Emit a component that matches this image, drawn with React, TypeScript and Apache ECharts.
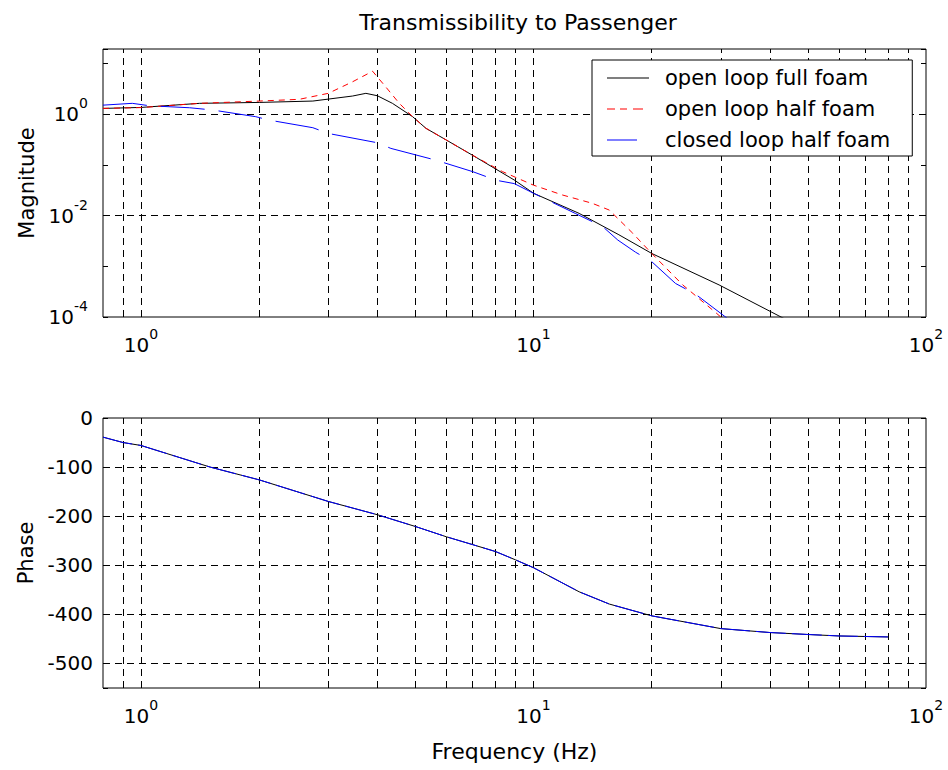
import React, { useEffect, useRef } from "react";
import * as echarts from "echarts";

// ---- data ----
const freqOpenFull = [0.8, 1.0, 1.41, 2, 2.74, 3, 3.46, 3.74, 4.0, 4.37, 4.92, 5.32, 6, 7, 8.93, 10, 13.07, 16.5, 20, 29.7, 42.2, 45];
const magOpenFull = [1.31, 1.37, 1.65, 1.72, 1.83, 2.0, 2.3, 2.6, 2.33, 1.65, 0.9, 0.53, 0.31, 0.155, 0.0506, 0.0277, 0.0111, 0.0042, 0.0018, 4.3e-4, 1.05e-4, 8.1e-5];

const freqOpenHalf = [0.8, 1.0, 1.41, 2, 2.53, 3, 3.46, 3.89, 4.2, 4.55, 4.92, 5.32, 6, 7, 8.34, 10, 11.85, 14.1, 15.6, 17.9, 20, 24.0, 29.2, 31];
const magOpenHalf = [1.31, 1.36, 1.65, 1.83, 1.98, 2.6, 4.4, 7.1, 3.5, 1.65, 0.9, 0.53, 0.31, 0.155, 0.074, 0.04, 0.0256, 0.0176, 0.0129, 0.0045, 0.0018, 4.3e-4, 1.2e-4, 8e-5];

const freqClosedHalf = [0.8, 0.95, 1.05, 1.33, 1.52, 1.96, 2.12, 2.74, 3, 4, 4.33, 5.63, 7, 8.03, 8.93, 10, 12.8, 15, 16.4, 18.2, 20, 23, 25.9, 30.6, 32];
const magClosedHalf = [1.52, 1.65, 1.48, 1.35, 1.22, 0.9, 0.77, 0.545, 0.42, 0.275, 0.213, 0.125, 0.074, 0.05, 0.043, 0.0277, 0.011, 0.0061, 0.0033, 0.0019, 0.00124, 4.6e-4, 2.8e-4, 1.05e-4, 8e-5];

const freqPhase = [0.8, 0.9, 1, 1.5, 2, 3, 4, 5, 6, 7, 8, 9, 10, 13.07, 15.6, 20, 30, 40, 50, 60, 80];
const phaseOpen = [-39, -50, -56, -100, -126, -170, -197, -221, -242, -258, -272, -289, -305, -354, -379, -403, -429, -437, -441, -444, -446];
const phaseClosed = [-39, -50, -56, -100, -126, -170, -197, -221, -242, -258, -272, -289, -305, -354, -379, -403, -429, -437, -441, -444, -446];

const seriesNames = ["open loop full foam", "open loop half foam", "closed loop half foam"];
const gridFreqs = [0.9, 1, 2, 3, 4, 5, 6, 7, 8, 9, 10, 20, 30, 40, 50, 60, 70, 80, 90];
const gridMag = [1, 0.01];
const gridPhase = [-100, -200, -300, -400, -500];

const FONT = "'DejaVu Sans', 'Liberation Sans', Arial, sans-serif";
const TICK = 20;

const zip = (xs: number[], ys: number[]) => xs.map((x, i) => [x, ys[i]]);

const powLabel = (onlyEven: boolean) => (v: number) => {
  const e = Math.log10(v);
  const r = Math.round(e);
  if (Math.abs(e - r) > 1e-6) return "";
  if (onlyEven && r % 2 !== 0) return "";
  return `{b|10}{s|${r}}`;
};

const rich = {
  b: { fontSize: TICK, fontFamily: FONT, color: "#000" },
  s: { fontSize: 14, fontFamily: FONT, color: "#000", padding: [0, 0, 22, 0] },
};

// legend sample shapes (solid, dashed, shorter solid)
const TINY = " M41.99,0h0.01v1h-0.01z";
const iconSolid = "path://M0,0h42v1h-42z";
const iconDashed = "path://M0,0h8v1h-8z M13,0h7v1h-7z M26,0h10v1h-10z" + TINY;
const iconShort = "path://M0,0h30v1h-30z" + TINY;

export default function App() {
  const ref = useRef<HTMLDivElement>(null);
  useEffect(() => {
    document.body.style.margin = "0";
    if (!ref.current) return;
    const chart = echarts.init(ref.current, undefined, { renderer: "svg" });

    const gridLine = (xIdx: number, yIdx: number, ys: number[]) => ({
      type: "line",
      xAxisIndex: xIdx,
      yAxisIndex: yIdx,
      data: [],
      silent: true,
      z: 1,
      markLine: {
        silent: true,
        z: 1,
        symbol: "none",
        animation: false,
        label: { show: false },
        lineStyle: { color: "#000", width: 1, type: [7, 5] },
        data: [...gridFreqs.map((v) => ({ xAxis: v })), ...ys.map((v) => ({ yAxis: v }))],
      },
    });

    const xAxisBase = (gridIndex: number) => ({
      type: "log",
      logBase: 10,
      gridIndex,
      min: 0.8,
      max: 100,
      axisLine: { show: false },
      axisTick: { show: false },
      splitLine: { show: false },
      axisLabel: { formatter: powLabel(false), rich, margin: 10, hideOverlap: false },
    });

    const option: any = {
      animation: false,
      backgroundColor: "#fff",
      title: {
        text: "Transmissibility to Passenger",
        left: 513,
        top: 6,
        textAlign: "center",
        textStyle: { fontSize: 22, fontWeight: "normal", color: "#000", fontFamily: FONT },
      },
      legend: {
        data: [
          { name: seriesNames[0], icon: iconSolid },
          { name: seriesNames[1], icon: iconDashed },
          { name: seriesNames[2], icon: iconShort },
        ],
        z: 10,
        orient: "vertical",
        left: 592,
        top: 60,
        itemWidth: 42,
        itemHeight: 1.5,
        itemGap: 7,
        padding: [6, 22, 4, 15],
        backgroundColor: "#fff",
        borderColor: "#000",
        borderWidth: 1,
        borderRadius: 0,
        textStyle: { fontSize: 21, color: "#000", fontFamily: FONT, padding: [0, 0, 0, 11], lineHeight: 24 },
      },
      grid: [
        { left: 103, top: 49, right: 22, height: 268, show: true, borderColor: "#000", borderWidth: 1, backgroundColor: "#fff" },
        { left: 103, top: 418, right: 22, height: 270, show: true, borderColor: "#000", borderWidth: 1, backgroundColor: "#fff" },
      ],
      xAxis: [
        xAxisBase(0),
        {
          ...xAxisBase(1),
          name: "Frequency (Hz)",
          nameLocation: "middle",
          nameGap: 52,
          nameTextStyle: { fontSize: 22, color: "#000", fontFamily: FONT },
        },
      ],
      yAxis: [
        {
          type: "log",
          logBase: 10,
          gridIndex: 0,
          min: 1e-4,
          max: 19.5,
          name: "Magnitude",
          nameLocation: "middle",
          nameGap: 62,
          nameTextStyle: { fontSize: 21, color: "#000", fontFamily: FONT },
          axisLine: { show: false },
          axisTick: { inside: true, length: 5, lineStyle: { color: "#000" } },
          splitLine: { show: false },
          axisLabel: { formatter: powLabel(true), rich, margin: 15 },
        },
        {
          type: "log",
          logBase: 10,
          gridIndex: 0,
          position: "right",
          min: 1e-4,
          max: 19.5,
          axisLine: { show: false },
          axisTick: { inside: true, length: 5, lineStyle: { color: "#000" } },
          splitLine: { show: false },
          axisLabel: { show: false },
        },
        {
          type: "value",
          gridIndex: 1,
          min: -550,
          max: 0,
          name: "Phase",
          nameLocation: "middle",
          nameGap: 64,
          nameTextStyle: { fontSize: 21, color: "#000", fontFamily: FONT },
          axisLine: { show: false },
          axisTick: { inside: true, length: 5, lineStyle: { color: "#000" } },
          splitLine: { show: false },
          axisLabel: {
            formatter: (v: number) => (v % 100 === 0 ? String(v) : ""),
            margin: 10,
            fontSize: TICK,
            color: "#000",
            fontFamily: FONT,
          },
        },
        {
          type: "value",
          gridIndex: 1,
          position: "right",
          min: -550,
          max: 0,
          axisLine: { show: false },
          axisTick: { inside: true, length: 5, lineStyle: { color: "#000" } },
          splitLine: { show: false },
          axisLabel: { show: false },
        },
      ],
      series: [
        gridLine(0, 0, gridMag),
        gridLine(1, 2, gridPhase),
        {
          name: seriesNames[0],
          type: "line",
          xAxisIndex: 0,
          yAxisIndex: 0,
          data: zip(freqOpenFull, magOpenFull),
          symbol: "none",
          clip: true,
          lineStyle: { color: "#000", width: 1 },
          itemStyle: { color: "#000" },
        },
        {
          name: seriesNames[1],
          type: "line",
          xAxisIndex: 0,
          yAxisIndex: 0,
          data: zip(freqOpenHalf, magOpenHalf),
          symbol: "none",
          clip: true,
          lineStyle: { color: "#ff0000", width: 1, type: [6, 5] },
          itemStyle: { color: "#ff0000" },
        },
        {
          name: seriesNames[2],
          type: "line",
          xAxisIndex: 0,
          yAxisIndex: 0,
          data: zip(freqClosedHalf, magClosedHalf),
          symbol: "none",
          clip: true,
          lineStyle: { color: "#0000ff", width: 1, type: [44, 14] },
          itemStyle: { color: "#0000ff" },
        },
        {
          name: "phase open",
          type: "line",
          xAxisIndex: 1,
          yAxisIndex: 2,
          data: zip(freqPhase, phaseOpen),
          symbol: "none",
          lineStyle: { color: "#000", width: 1 },
        },
        {
          name: "phase closed",
          type: "line",
          xAxisIndex: 1,
          yAxisIndex: 2,
          data: zip(freqPhase, phaseClosed),
          symbol: "none",
          lineStyle: { color: "#0000ff", width: 1, type: [30, 6] },
        },
      ],
    };

    chart.setOption(option);
    return () => chart.dispose();
  }, []);

  return <div ref={ref} style={{ width: 948, height: 770 }} />;
}
